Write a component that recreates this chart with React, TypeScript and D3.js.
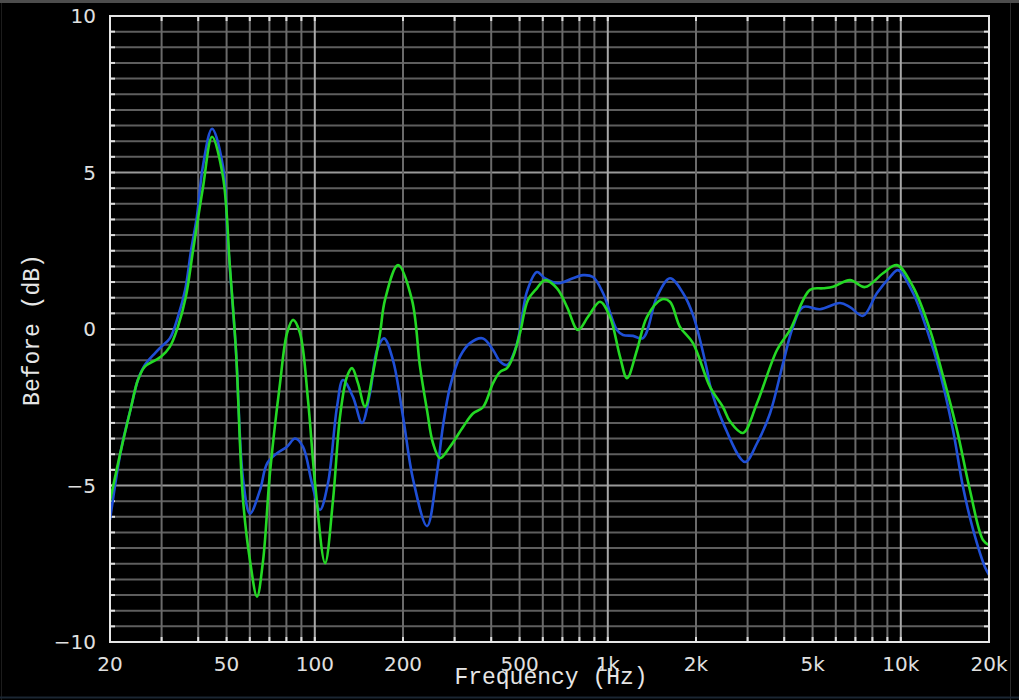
import React from 'react';
import * as d3 from 'd3';

const W = 1019;
const H = 700;

const blueFreq = [20, 21.8, 23.6, 24.9, 26.3, 28.5, 29.9, 32.0, 34.1, 36.1, 37.8, 39.6, 41.5, 44.6, 48.6, 50.5, 53.8, 56.9, 60.1, 65.0, 68.7, 74.3, 80.4, 85.6, 91.1, 97.8, 104.2, 110.9, 119.1, 124.8, 135.0, 144.9, 154.3, 163.1, 172.3, 184.9, 200, 216.4, 241.6, 261.2, 273.8, 289.4, 313, 338.6, 375, 405.8, 429, 453, 482.4, 501.6, 530, 573, 610, 676, 760, 823, 890, 963, 1075, 1127, 1219, 1318, 1472, 1630, 1805, 1953, 2180, 2233, 2474, 2940, 3230, 3577, 3963, 4285, 4636, 5298, 6202, 6708, 7430, 8294, 9186, 9782, 11010, 12286, 13610, 15068, 16306, 17638, 19366, 20000];
const blueDb = [-6.1, -3.87, -2.5, -1.63, -1.15, -0.77, -0.57, -0.3, 0.39, 1.25, 2.5, 3.6, 5.2, 6.4, 5.2, 2.8, -0.67, -4.8, -5.9, -5.15, -4.3, -3.97, -3.76, -3.5, -3.76, -4.93, -5.78, -4.93, -2.48, -1.63, -2.17, -3.0, -2.05, -0.67, -0.3, -1.0, -2.8, -4.8, -6.3, -4.6, -3.1, -1.85, -0.88, -0.45, -0.3, -0.67, -1.04, -1.15, -0.67, -0.03, 1.2, 1.82, 1.62, 1.46, 1.62, 1.72, 1.66, 1.15, -0.03, -0.19, -0.22, -0.29, 1.03, 1.62, 1.15, 0.45, -1.3, -1.8, -3.0, -4.25, -3.65, -2.7, -1.1, 0.07, 0.7, 0.63, 0.83, 0.7, 0.42, 1.15, 1.66, 1.88, 1.15, -0.03, -1.4, -3.23, -5.05, -6.4, -7.6, -7.85];

const greenFreq = [20, 21.8, 23.6, 24.9, 26.3, 28.5, 29.9, 32.0, 34.1, 36.3, 38.4, 41.5, 44.6, 48.6, 51.3, 53.8, 56.9, 60.1, 63.5, 66.6, 70.3, 76.1, 80.4, 84.3, 89.0, 94.8, 100.2, 108.4, 115.4, 121.9, 128.8, 134.0, 140.4, 148.4, 158.0, 167.0, 173.6, 192.3, 214.6, 228.6, 241.6, 253.2, 267.6, 289.4, 320.6, 346.6, 375, 405.8, 429, 453, 475, 501.6, 534, 573, 610, 671, 726, 791, 856, 941, 1017, 1101, 1163, 1258, 1361, 1531, 1630, 1763, 1953, 2233, 2474, 2612, 2893, 3230, 3780, 4188, 4898, 5424, 5870, 6708, 7550, 8694, 9705, 11010, 12580, 13932, 15554, 17220, 19078, 20000];
const greenDb = [-5.5, -3.87, -2.5, -1.63, -1.2, -1.0, -0.88, -0.57, 0.07, 1.03, 2.5, 4.5, 6.14, 4.86, 2.0, -0.67, -5.46, -7.4, -8.55, -7.4, -4.6, -1.73, -0.13, 0.29, -0.13, -2.27, -4.93, -7.48, -5.46, -2.8, -1.52, -1.25, -1.73, -2.48, -1.4, -0.13, 0.93, 2.04, 0.93, -1.2, -2.6, -3.65, -4.13, -3.76, -3.13, -2.7, -2.5, -1.73, -1.37, -1.25, -0.88, -0.13, 0.93, 1.3, 1.56, 1.3, 0.7, -0.03, 0.39, 0.87, 0.39, -0.89, -1.57, -0.67, 0.39, 0.95, 0.87, 0.07, -0.45, -1.85, -2.5, -2.95, -3.32, -2.37, -0.67, -0.03, 1.25, 1.3, 1.35, 1.56, 1.34, 1.78, 2.04, 1.35, -0.03, -1.5, -3.23, -5.15, -6.74, -6.9];

const xTickValues = [20, 50, 100, 200, 500, 1000, 2000, 5000, 10000, 20000];
const xTickLabels = ['20', '50', '100', '200', '500', '1k', '2k', '5k', '10k', '20k'];
const yTickValues = [10, 5, 0, -5, -10];
const yTickLabels = ['10', '5', '0', '\u22125', '\u221210'];
const gridFreqs = [30, 40, 50, 60, 70, 80, 90, 100, 200, 300, 400, 500, 600, 700, 800, 900, 1000, 2000, 3000, 4000, 5000, 6000, 7000, 8000, 9000, 10000];
const decadeFreqs = [100, 1000, 10000];

export default function App() {
  const left = 110, right = 989, top = 16, bottom = 642;
  const x = d3.scaleLog().domain([20, 20000]).range([left, right]);
  const y = d3.scaleLinear().domain([-10, 10]).range([bottom, top]);
  const line = d3
    .line<[number, number]>()
    .x((d) => x(d[0]))
    .y((d) => y(d[1]))
    .curve(d3.curveCatmullRom.alpha(0.5));
  const blue: [number, number][] = blueFreq.map((f, i) => [f, blueDb[i]]);
  const green: [number, number][] = greenFreq.map((f, i) => [f, greenDb[i]]);
  const hVals = d3.range(-19, 20).map((k) => k / 2);

  return (
    <div style={{ position: 'absolute', left: 0, top: 0, width: W, height: H }}>
      <svg width={W} height={H} style={{ display: 'block', background: '#000' }}>
        <rect x={0} y={0} width={W} height={H} fill="#000" />
        <rect x={0} y={0} width={W} height={3} fill="#4d4d4d" />
        <line x1={1.5} x2={1.5} y1={3} y2={H} stroke="#1c1c1c" strokeWidth={1} />
        <line x1={1010.5} x2={1010.5} y1={3} y2={H} stroke="#2a2a2a" strokeWidth={1} />
        <line x1={0} x2={W} y1={697.5} y2={697.5} stroke="#1a2633" strokeWidth={2} />
        <defs>
          <clipPath id="plotClip">
            <rect x={left} y={top} width={right - left} height={bottom - top} />
          </clipPath>
        </defs>
        {/* horizontal grid */}
        {hVals.map((v) => (
          <line
            key={'h' + v}
            x1={left}
            x2={right}
            y1={y(v)}
            y2={y(v)}
            stroke={v % 5 === 0 ? '#9a9a9a' : '#5e5e5e'}
            strokeWidth={2}
          />
        ))}
        {/* vertical grid */}
        {gridFreqs.map((f) => (
          <line
            key={'v' + f}
            x1={x(f)}
            x2={x(f)}
            y1={top}
            y2={bottom}
            stroke={decadeFreqs.includes(f) ? '#a8a8a8' : '#6a6a6a'}
            strokeWidth={2}
          />
        ))}
        {/* ticks */}
        {hVals.map((v) => (
          <g key={'t' + v}>
            <line x1={left} x2={left + 5} y1={y(v)} y2={y(v)} stroke="#e0e0e0" strokeWidth={2} />
            <line x1={right - 5} x2={right} y1={y(v)} y2={y(v)} stroke="#e0e0e0" strokeWidth={2} />
          </g>
        ))}
        {gridFreqs.map((f) => (
          <g key={'tx' + f}>
            <line x1={x(f)} x2={x(f)} y1={bottom - 5} y2={bottom} stroke="#e0e0e0" strokeWidth={2} />
            <line x1={x(f)} x2={x(f)} y1={top} y2={top + 5} stroke="#e0e0e0" strokeWidth={2} />
          </g>
        ))}
        {/* data */}
        <g clipPath="url(#plotClip)">
          <path d={line(blue) || ''} fill="none" stroke="#1f4fd6" strokeWidth={2.6} />
          <path d={line(green) || ''} fill="none" stroke="#24d824" strokeWidth={2.6} />
        </g>
        {/* frame */}
        <rect x={left} y={top} width={right - left} height={bottom - top} fill="none" stroke="#e6e6e6" strokeWidth={2} />
        {/* y tick labels */}
        {yTickValues.map((v, i) => (
          <text
            key={'yl' + v}
            x={96}
            y={y(v)}
            textAnchor="end"
            dominantBaseline="central"
            fill="#e0e0e0"
            fontFamily="DejaVu Sans, sans-serif"
            fontSize={20}
          >
            {yTickLabels[i]}
          </text>
        ))}
        {/* x tick labels */}
        {xTickValues.map((v, i) => (
          <text
            key={'xl' + v}
            x={x(v)}
            y={664}
            textAnchor="middle"
            dominantBaseline="central"
            fill="#e0e0e0"
            fontFamily="DejaVu Sans, sans-serif"
            fontSize={20}
          >
            {xTickLabels[i]}
          </text>
        ))}
        <text
          x={551}
          y={684}
          textAnchor="middle"
          fill="#e6e6e6"
          fontFamily="Liberation Mono, monospace"
          fontSize={23}
        >
          Frequency (Hz)
        </text>
        <text
          transform="translate(39,330) rotate(-90)"
          textAnchor="middle"
          fill="#e6e6e6"
          fontFamily="Liberation Mono, monospace"
          fontSize={23}
        >
          Before (dB)
        </text>
      </svg>
    </div>
  );
}
